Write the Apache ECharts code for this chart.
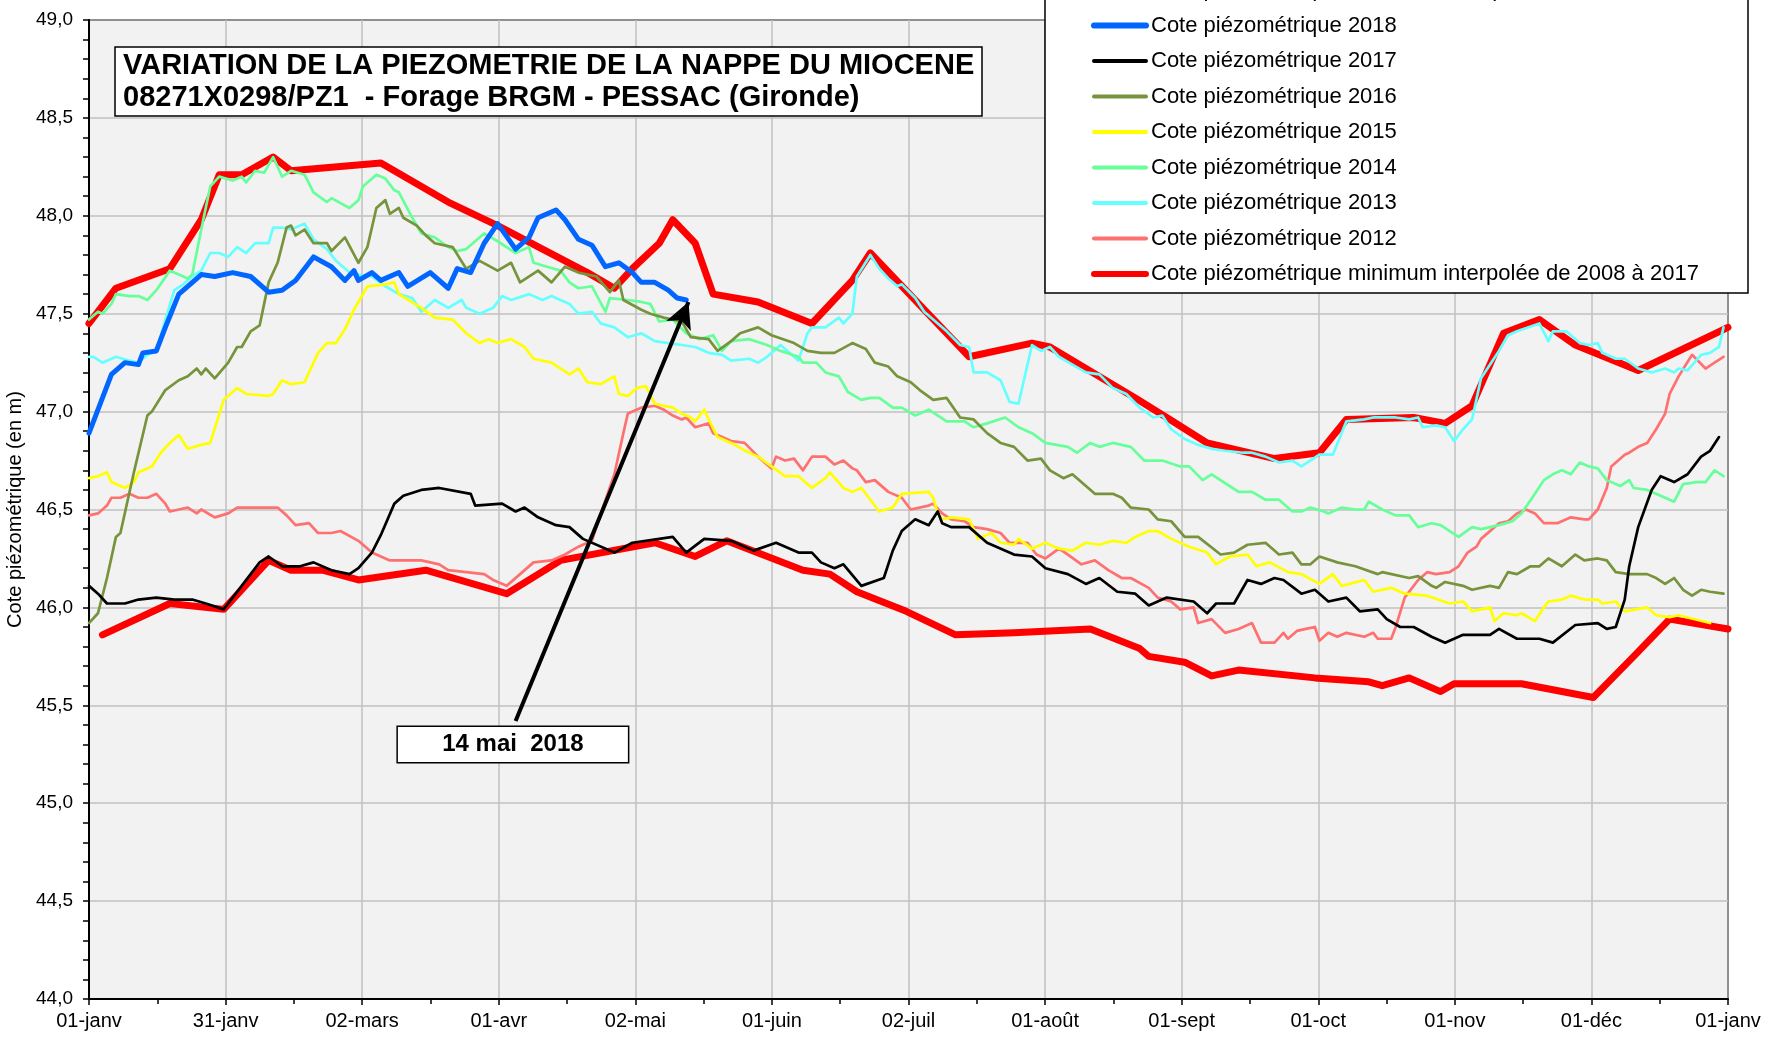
<!DOCTYPE html>
<html>
<head>
<meta charset="utf-8">
<title>Piézométrie Miocène - PESSAC</title>
<script src="https://cdn.jsdelivr.net/npm/echarts@6/dist/echarts.min.js"></script>
<style>
  html, body { margin: 0; padding: 0; background: #fff; }
  #main-chart { width: 1767px; height: 1037px; }
</style>
</head>
<body>
<div id="main-chart"></div>
<script>
// x = day of year (0 = 01-janv, 365 = 01-janv suivant), y = cote en m NGF
var monthLabels = ['01-janv', '31-janv', '02-mars', '01-avr', '02-mai', '01-juin', '02-juil',
    '01-août', '01-sept', '01-oct', '01-nov', '01-déc', '01-janv'];

var seriesNames = {
    max: 'Cote piézométrique maximum interpolée de 2008 à 2017',
    y2018: 'Cote piézométrique 2018',
    y2017: 'Cote piézométrique 2017',
    y2016: 'Cote piézométrique 2016',
    y2015: 'Cote piézométrique 2015',
    y2014: 'Cote piézométrique 2014',
    y2013: 'Cote piézométrique 2013',
    y2012: 'Cote piézométrique 2012',
    min: 'Cote piézométrique minimum interpolée de 2008 à 2017'
};

var data2018 = [[0,46.89],[2,47.01],[5,47.19],[8,47.25],[11,47.24],[12,47.30],[15,47.31],[17,47.43],[20,47.60],[22,47.64],
    [25,47.70],[28,47.69],[32,47.71],[36,47.69],[40,47.61],[43,47.62],[46,47.67],[50,47.79],[54,47.74],[57,47.67],[59,47.72],
    [60,47.67],[63,47.71],[65,47.67],[69,47.71],[71,47.64],[76,47.71],[80,47.63],[82,47.73],[85,47.71],[88,47.86],[91,47.96],
    [95,47.83],[98,47.89],[100,47.99],[104,48.03],[106,47.98],[109,47.88],[112,47.85],[115,47.74],[118,47.76],[121,47.71],
    [123,47.66],[126,47.66],[129,47.62],[131,47.58],[133,47.57]];

var data2017 = [[0,46.11],[2,46.07],[4,46.02],[8,46.02],[11,46.04],[15,46.05],[19,46.04],[23,46.04],[26,46.02],[30,45.99],
    [34,46.11],[38,46.23],[40,46.26],[43,46.21],[47,46.21],[50,46.23],[54,46.19],[58,46.17],[60,46.20],[63,46.28],[65,46.37],
    [68,46.53],[70,46.57],[74,46.60],[78,46.61],[85,46.58],[86,46.52],[92,46.53],[95,46.49],[97,46.51],[100,46.46],[104,46.42],
    [107,46.41],[110,46.35],[117,46.28],[121,46.33],[130,46.36],[133,46.28],[137,46.35],[143,46.34],[148,46.29],[153,46.33],
    [158,46.28],[161,46.28],[163,46.23],[166,46.20],[168,46.22],[172,46.11],[177,46.15],[179,46.29],[181,46.39],[184,46.45],
    [187,46.42],[189,46.49],[190,46.43],[192,46.41],[196,46.41],[200,46.33],[206,46.27],[210,46.26],[213,46.20],[218,46.17],
    [222,46.12],[225,46.15],[229,46.08],[233,46.07],[236,46.01],[240,46.05],[246,46.03],[249,45.97],[251,46.02],[255,46.02],
    [258,46.14],[261,46.12],[264,46.15],[266,46.14],[270,46.07],[273,46.09],[276,46.03],[280,46.05],[283,45.98],[287,45.99],
    [289,45.94],[292,45.90],[295,45.90],[299,45.85],[302,45.82],[306,45.86],[312,45.86],[314,45.89],[318,45.84],[323,45.84],
    [326,45.82],[331,45.91],[336,45.92],[338,45.89],[340,45.90],[342,46.04],[343,46.21],[345,46.41],[348,46.60],[350,46.67],
    [353,46.64],[356,46.68],[359,46.77],[361,46.80],[363,46.87]];

var data2016 = [[0,45.92],[2,45.97],[4,46.15],[6,46.36],[7,46.38],[10,46.69],[13,46.98],[14,47.00],[17,47.11],[20,47.16],
    [22,47.18],[24,47.22],[25,47.19],[26,47.22],[28,47.17],[31,47.25],[33,47.33],[34,47.33],[36,47.41],[38,47.44],[40,47.66],
    [42,47.76],[44,47.94],[45,47.95],[46,47.90],[48,47.93],[50,47.86],[53,47.86],[54,47.82],[57,47.89],[60,47.76],[62,47.84],
    [64,48.04],[66,48.08],[67,48.01],[69,48.04],[70,47.99],[73,47.95],[75,47.90],[77,47.86],[81,47.84],[84,47.73],[87,47.77],
    [91,47.72],[94,47.76],[96,47.66],[100,47.72],[103,47.66],[106,47.74],[109,47.71],[113,47.69],[116,47.61],[118,47.67],
    [119,47.57],[123,47.52],[125,47.50],[128,47.48],[132,47.46],[134,47.38],[138,47.37],[140,47.31],[143,47.36],[145,47.40],
    [149,47.43],[152,47.39],[157,47.35],[160,47.31],[163,47.30],[166,47.30],[170,47.35],[173,47.32],[175,47.25],[178,47.23],
    [180,47.18],[183,47.15],[185,47.11],[188,47.06],[191,47.07],[194,46.97],[197,46.96],[200,46.89],[203,46.84],[206,46.82],
    [209,46.75],[212,46.76],[214,46.70],[217,46.66],[219,46.68],[224,46.58],[228,46.58],[230,46.56],[232,46.51],[236,46.50],
    [238,46.45],[241,46.44],[244,46.36],[247,46.36],[252,46.27],[255,46.28],[258,46.32],[262,46.33],[265,46.27],[268,46.28],
    [270,46.22],[272,46.22],[274,46.26],[278,46.23],[282,46.21],[287,46.17],[288,46.18],[294,46.15],[296,46.16],[299,46.11],
    [300,46.10],[302,46.13],[306,46.11],[308,46.09],[312,46.11],[314,46.10],[316,46.18],[318,46.17],[321,46.21],[323,46.21],
    [325,46.25],[328,46.21],[331,46.27],[333,46.24],[336,46.25],[338,46.24],[340,46.18],[343,46.17],[347,46.17],[349,46.15],
    [351,46.12],[353,46.15],[355,46.09],[357,46.06],[359,46.09],[361,46.08],[364,46.07]];

var data2015 = [[0,46.66],[2,46.67],[4,46.69],[5,46.64],[8,46.61],[10,46.64],[11,46.69],[14,46.72],[16,46.79],[18,46.84],
    [20,46.88],[22,46.81],[25,46.83],[27,46.84],[30,47.06],[33,47.12],[35,47.09],[40,47.08],[41,47.09],[43,47.16],[45,47.14],
    [48,47.15],[51,47.30],[53,47.35],[55,47.35],[57,47.42],[59,47.52],[62,47.64],[66,47.65],[68,47.66],[69,47.60],[74,47.53],
    [77,47.48],[81,47.47],[84,47.40],[87,47.35],[89,47.37],[91,47.35],[94,47.37],[97,47.33],[99,47.27],[103,47.25],[107,47.19],
    [109,47.22],[111,47.15],[114,47.14],[117,47.18],[118,47.09],[120,47.08],[122,47.12],[124,47.13],[126,47.04],[130,47.02],
    [132,46.99],[134,46.97],[135,46.95],[137,47.01],[138,46.96],[140,46.87],[143,46.84],[147,46.79],[149,46.77],[152,46.72],
    [155,46.67],[158,46.67],[161,46.61],[164,46.66],[165,46.69],[168,46.61],[170,46.59],[172,46.61],[176,46.49],[179,46.51],
    [181,46.58],[187,46.59],[188,46.56],[189,46.48],[190,46.45],[192,46.46],[196,46.45],[198,46.35],[201,46.38],[203,46.33],
    [206,46.32],[207,46.35],[210,46.30],[213,46.33],[216,46.30],[219,46.29],[222,46.33],[225,46.32],[228,46.34],[231,46.33],
    [233,46.36],[236,46.39],[238,46.39],[241,46.35],[245,46.31],[249,46.28],[251,46.22],[254,46.26],[258,46.27],[260,46.21],
    [263,46.23],[267,46.18],[270,46.17],[274,46.12],[277,46.17],[279,46.11],[284,46.14],[286,46.08],[290,46.10],[293,46.07],
    [298,46.06],[303,46.02],[306,46.03],[308,45.98],[312,46.00],[313,45.93],[315,45.97],[318,45.96],[319,45.97],[322,45.93],
    [324,46.00],[325,46.03],[328,46.04],[330,46.06],[333,46.04],[336,46.04],[337,46.02],[340,46.03],[342,45.98],[347,46.00],
    [349,45.96],[352,45.95],[354,45.96],[361,45.92]];

var data2014 = [[0,47.47],[2,47.51],[3,47.50],[5,47.55],[6,47.60],[9,47.59],[11,47.59],[13,47.57],[15,47.62],[18,47.72],
    [20,47.70],[22,47.68],[23,47.70],[25,47.93],[27,48.15],[29,48.20],[32,48.18],[34,48.20],[35,48.17],[37,48.23],[39,48.22],
    [41,48.30],[43,48.20],[45,48.23],[48,48.21],[50,48.12],[53,48.07],[54,48.09],[58,48.04],[60,48.08],[61,48.15],[64,48.21],
    [66,48.19],[68,48.13],[69,48.12],[72,47.99],[74,47.91],[77,47.89],[80,47.84],[82,47.82],[84,47.83],[88,47.91],[91,47.87],
    [93,47.84],[95,47.81],[98,47.84],[99,47.76],[102,47.74],[105,47.72],[107,47.66],[109,47.63],[112,47.64],[115,47.51],
    [116,47.58],[120,47.57],[123,47.56],[125,47.55],[127,47.46],[130,47.47],[133,47.40],[136,47.37],[139,47.39],[141,47.31],
    [143,47.36],[147,47.37],[151,47.34],[154,47.31],[158,47.28],[159,47.25],[162,47.25],[164,47.20],[167,47.18],[169,47.10],
    [172,47.06],[174,47.07],[176,47.07],[179,47.02],[181,47.02],[184,46.98],[187,47.01],[191,46.95],[195,46.95],[197,46.92],
    [200,46.94],[204,46.97],[207,46.92],[210,46.89],[213,46.84],[218,46.82],[220,46.79],[223,46.84],[225,46.82],[228,46.84],
    [232,46.82],[235,46.75],[239,46.75],[243,46.72],[245,46.72],[248,46.65],[250,46.68],[254,46.62],[256,46.59],[259,46.59],
    [262,46.55],[265,46.55],[268,46.49],[270,46.49],[272,46.51],[275,46.49],[276,46.48],[279,46.51],[282,46.50],[284,46.50],
    [285,46.54],[288,46.50],[291,46.47],[294,46.47],[296,46.41],[299,46.43],[301,46.42],[305,46.36],[308,46.41],[310,46.40],
    [314,46.42],[317,46.44],[319,46.48],[322,46.58],[324,46.65],[326,46.68],[328,46.70],[330,46.68],[332,46.74],[334,46.72],
    [336,46.71],[338,46.65],[341,46.62],[343,46.65],[344,46.61],[347,46.60],[350,46.57],[353,46.54],[355,46.63],[358,46.64],
    [360,46.64],[362,46.70],[364,46.67]];

var data2013 = [[0,47.28],[1,47.28],[3,47.25],[6,47.28],[9,47.26],[11,47.25],[13,47.29],[15,47.31],[17,47.47],[19,47.62],
    [21,47.65],[23,47.69],[25,47.72],[27,47.81],[29,47.81],[31,47.79],[33,47.84],[35,47.81],[37,47.86],[40,47.86],[41,47.94],
    [43,47.94],[45,47.93],[48,47.96],[50,47.88],[53,47.83],[55,47.77],[58,47.71],[60,47.70],[63,47.69],[66,47.64],[69,47.60],
    [72,47.58],[74,47.51],[77,47.57],[80,47.53],[83,47.57],[84,47.53],[87,47.50],[90,47.53],[92,47.59],[94,47.57],[98,47.60],
    [101,47.57],[103,47.59],[106,47.56],[107,47.55],[109,47.50],[112,47.51],[114,47.45],[117,47.43],[120,47.38],[123,47.40],
    [126,47.36],[129,47.35],[132,47.34],[135,47.33],[138,47.30],[141,47.29],[143,47.26],[147,47.27],[149,47.25],[151,47.28],
    [154,47.34],[157,47.28],[158,47.26],[160,47.40],[161,47.43],[164,47.43],[167,47.48],[168,47.45],[170,47.50],[171,47.69],
    [174,47.80],[176,47.73],[178,47.68],[180,47.64],[181,47.65],[184,47.58],[186,47.51],[188,47.47],[191,47.41],[194,47.34],
    [196,47.33],[197,47.20],[200,47.20],[203,47.16],[205,47.05],[207,47.04],[210,47.34],[212,47.31],[214,47.33],[216,47.28],
    [219,47.24],[222,47.20],[225,47.19],[228,47.12],[231,47.09],[234,47.02],[237,46.97],[239,46.98],[241,46.91],[244,46.86],
    [247,46.83],[250,46.81],[253,46.80],[257,46.79],[259,46.79],[262,46.77],[265,46.74],[268,46.75],[270,46.72],[274,46.78],
    [277,46.78],[280,46.95],[284,46.96],[286,46.97],[291,46.97],[294,46.96],[296,46.97],[297,46.92],[300,46.93],[302,46.92],
    [304,46.85],[306,46.91],[308,46.96],[310,47.17],[314,47.31],[316,47.39],[318,47.41],[323,47.45],[325,47.36],[326,47.41],
    [329,47.41],[332,47.35],[334,47.34],[336,47.35],[337,47.30],[340,47.27],[342,47.27],[345,47.22],[348,47.20],[351,47.22],
    [353,47.20],[354,47.22],[356,47.21],[359,47.29],[361,47.30],[363,47.33],[364,47.43]];

var data2012 = [[0,46.47],[2,46.48],[4,46.52],[5,46.56],[7,46.56],[9,46.58],[11,46.56],[13,46.56],[15,46.58],[17,46.53],
    [18,46.49],[20,46.50],[22,46.51],[24,46.48],[25,46.50],[28,46.46],[31,46.48],[33,46.51],[36,46.51],[40,46.51],[42,46.51],
    [44,46.47],[46,46.42],[49,46.43],[51,46.38],[54,46.38],[56,46.39],[60,46.34],[63,46.28],[67,46.24],[70,46.24],[74,46.24],
    [78,46.22],[80,46.19],[84,46.18],[88,46.17],[90,46.14],[93,46.11],[96,46.17],[99,46.23],[103,46.24],[106,46.27],[109,46.31],
    [112,46.34],[114,46.48],[117,46.68],[119,46.89],[120,46.99],[123,47.02],[126,47.03],[128,47.01],[130,46.98],[132,46.96],
    [133,46.97],[135,46.92],[138,46.94],[139,46.89],[141,46.87],[143,46.85],[146,46.84],[149,46.77],[152,46.71],[153,46.77],
    [155,46.75],[157,46.76],[159,46.70],[161,46.77],[164,46.77],[166,46.73],[168,46.75],[170,46.71],[171,46.70],[173,46.64],
    [175,46.65],[178,46.59],[181,46.56],[183,46.50],[187,46.52],[188,46.53],[190,46.48],[192,46.45],[195,46.44],[197,46.41],
    [200,46.40],[203,46.38],[205,46.33],[209,46.33],[211,46.27],[213,46.25],[216,46.30],[218,46.27],[221,46.22],[224,46.24],
    [227,46.19],[230,46.15],[232,46.15],[236,46.10],[238,46.05],[241,46.03],[243,45.99],[246,46.00],[247,45.92],[250,45.94],
    [253,45.87],[256,45.89],[259,45.92],[261,45.82],[264,45.82],[266,45.87],[267,45.84],[269,45.88],[271,45.89],[273,45.90],
    [274,45.83],[276,45.87],[278,45.85],[280,45.87],[284,45.85],[286,45.87],[287,45.84],[290,45.84],[291,45.90],[293,46.05],
    [296,46.14],[298,46.18],[300,46.17],[303,46.18],[305,46.21],[307,46.28],[309,46.31],[310,46.35],[314,46.43],[316,46.44],
    [318,46.48],[320,46.50],[322,46.48],[324,46.43],[327,46.43],[329,46.45],[330,46.46],[333,46.45],[334,46.45],[336,46.50],
    [338,46.61],[339,46.72],[342,46.78],[343,46.79],[345,46.82],[347,46.84],[349,46.91],[351,46.99],[352,47.09],[354,47.18],
    [357,47.29],[360,47.22],[362,47.25],[364,47.28]];

var dataMax = [[0,47.45],[6,47.63],[18,47.73],[25,47.98],[29,48.21],[34,48.21],[41,48.30],[45,48.23],[65,48.27],[80,48.07],
    [91,47.95],[111,47.71],[117,47.63],[121,47.73],[127,47.86],[130,47.98],[135,47.86],[139,47.60],[149,47.56],[161,47.45],
    [170,47.67],[174,47.81],[196,47.28],[210,47.35],[214,47.33],[233,47.07],[240,46.97],[249,46.84],[264,46.76],[274,46.79],
    [280,46.96],[295,46.97],[302,46.94],[308,47.03],[315,47.40],[323,47.47],[331,47.34],[345,47.21],[365,47.43]];

var dataMin = [[3,45.86],[18,46.02],[30,45.99],[40,46.24],[45,46.19],[52,46.19],[60,46.14],[75,46.19],[93,46.07],[105,46.24],
    [126,46.33],[135,46.26],[142,46.34],[159,46.19],[165,46.17],[171,46.08],[182,45.98],[193,45.86],[206,45.87],[223,45.89],
    [234,45.79],[236,45.75],[244,45.72],[250,45.65],[256,45.68],[273,45.64],[285,45.62],[288,45.60],[294,45.64],[301,45.57],
    [304,45.61],[319,45.61],[335,45.54],[344,45.75],[352,45.94],[365,45.89]];

// annotation "14 mai 2018" (day, cote)
var arrowFrom = [95, 45.42];
var arrowTo = [133.5, 47.56];
var labelAt = [94.4, 45.30];
var labelText = '14 mai  2018';

var mainChart;
var step = 365 / 12;
var font = 'Arial, "Liberation Sans", sans-serif';

window.onload = function () {
    chartInit();
};

function lineSeries(name, data, color, width, extra) {
    var s = {
        name: name,
        type: 'line',
        data: data,
        symbol: 'none',
        showSymbol: false,
        smooth: false,
        silent: true,
        lineStyle: { color: color, width: width, join: 'round', cap: 'round' },
        itemStyle: { color: color }
    };
    if (extra) {
        for (var k in extra) s[k] = extra[k];
    }
    return s;
}

function legendItem(name, width) {
    return { name: name, itemStyle: { opacity: 0 }, lineStyle: { width: width } };
}

function chartInit() {
    mainChart = echarts.init(document.getElementById('main-chart'));

    var opt = {
        animation: false,
        backgroundColor: '#fff',
        textStyle: { fontFamily: font },
        title: {
            text: 'VARIATION DE LA PIEZOMETRIE DE LA NAPPE DU MIOCENE\n08271X0298/PZ1  - Forage BRGM - PESSAC (Gironde)',
            left: 115,
            top: 47,
            padding: [3, 8, 2, 8],
            backgroundColor: '#fff',
            borderColor: '#000',
            borderWidth: 1.5,
            textStyle: { fontSize: 29, fontWeight: 'bold', color: '#000', lineHeight: 32, fontFamily: font }
        },
        legend: {
            orient: 'vertical',
            left: 1045,
            top: -26,
            padding: [5, 43, 8, 46],
            itemGap: 13.5,
            itemWidth: 52,
            itemHeight: 14,
            selectedMode: false,
            backgroundColor: '#fff',
            borderColor: '#000',
            borderWidth: 1.5,
            itemStyle: { opacity: 0 },
            textStyle: { fontSize: 22, color: '#000', fontFamily: font },
            data: [legendItem(seriesNames.max, 6), legendItem(seriesNames.y2018, 6), legendItem(seriesNames.y2017, 4),
                legendItem(seriesNames.y2016, 4), legendItem(seriesNames.y2015, 4), legendItem(seriesNames.y2014, 4),
                legendItem(seriesNames.y2013, 4), legendItem(seriesNames.y2012, 4), legendItem(seriesNames.min, 6)]
        },
        grid: {
            left: 89, right: 39, top: 20, bottom: 38,
            show: true,
            backgroundColor: '#f2f2f2',
            borderColor: '#000',
            borderWidth: 2,
            containLabel: false,
            outerBoundsMode: 'none'
        },
        xAxis: {
            type: 'value',
            min: 0,
            max: 365,
            interval: step,
            axisLine: { show: true, lineStyle: { color: '#000', width: 2 } },
            axisTick: { show: true, inside: false, length: 6, lineStyle: { color: '#000', width: 1.5 } },
            minorTick: { show: true, splitNumber: 2, length: 5, lineStyle: { color: '#000', width: 1.5 } },
            splitLine: { show: true, lineStyle: { color: '#c0c0c0', width: 1.5 } },
            axisLabel: {
                fontSize: 20, color: '#000', margin: 12, fontFamily: font,
                formatter: function (v) { return monthLabels[Math.round(v / step)]; }
            }
        },
        yAxis: {
            type: 'value',
            min: 44,
            max: 49,
            interval: 0.5,
            name: 'Cote piézométrique (en m)',
            nameLocation: 'middle',
            nameGap: 56,
            nameTextStyle: { fontSize: 20, color: '#000', fontFamily: font },
            axisLine: { show: true, lineStyle: { color: '#000', width: 2 } },
            axisTick: { show: true, inside: false, length: 6, lineStyle: { color: '#000', width: 1.5 } },
            minorTick: { show: true, splitNumber: 5, length: 6, lineStyle: { color: '#000', width: 1.5 } },
            splitLine: { show: true, lineStyle: { color: '#c0c0c0', width: 1.5 } },
            axisLabel: {
                fontSize: 19, color: '#000', margin: 16, fontFamily: font,
                formatter: function (v) { return v.toFixed(1).replace('.', ','); }
            }
        },
        series: [
            lineSeries(seriesNames.max, dataMax, '#ff0000', 7),
            lineSeries(seriesNames.min, dataMin, '#ff0000', 7),
            lineSeries(seriesNames.y2012, data2012, '#ff7070', 2.7),
            lineSeries(seriesNames.y2013, data2013, '#66ffff', 2.7),
            lineSeries(seriesNames.y2014, data2014, '#66ff99', 2.7),
            lineSeries(seriesNames.y2015, data2015, '#ffff00', 2.7),
            lineSeries(seriesNames.y2016, data2016, '#77933c', 2.7),
            lineSeries(seriesNames.y2017, data2017, '#000000', 2.7),
            lineSeries(seriesNames.y2018, data2018, '#0066ff', 5, {
                markLine: {
                    silent: true,
                    symbol: ['none', 'arrow'],
                    symbolSize: [20, 26],
                    label: { show: false },
                    lineStyle: { color: '#000', width: 4, type: 'solid' },
                    data: [[{ coord: arrowFrom }, { coord: arrowTo }]]
                },
                markPoint: {
                    silent: true,
                    symbol: 'circle',
                    symbolSize: 1,
                    itemStyle: { color: 'rgba(0,0,0,0)' },
                    label: {
                        show: true, position: 'inside', color: '#000',
                        fontSize: 24, fontWeight: 'bold', fontFamily: font,
                        width: 230, height: 35, lineHeight: 35, align: 'center', verticalAlign: 'middle',
                        backgroundColor: '#fff', borderColor: '#000', borderWidth: 1.5,
                        formatter: labelText
                    },
                    data: [{ coord: labelAt }]
                }
            })
        ]
    };

    mainChart.setOption(opt);
}
</script>
</body>
</html>
